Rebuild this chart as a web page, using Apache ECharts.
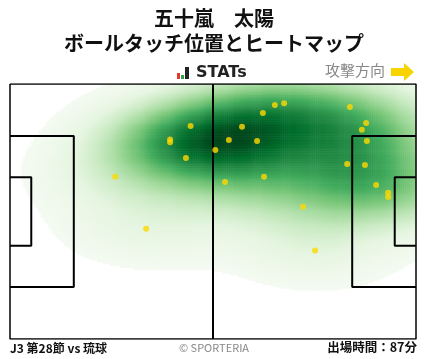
<!DOCTYPE html>
<html><head><meta charset="utf-8">
<script src="https://cdn.jsdelivr.net/npm/echarts@6/dist/echarts.min.js"></script>
<style>html,body{margin:0;padding:0;background:#fff}#c{width:428px;height:359px}</style>
</head><body><div id="c"></div>
<script>
// Ball touch positions (metres: x 0..105 attacking right, y 0..68 from top)
const touchX = [46.7,41.4,41.4,45.5,27.2,35.2,53.1,68.5,70.9,65.4,60.0,56.6,63.9,55.6,65.7,75.8,78.9,87.9,92.1,91.0,92.3,87.2,91.8,94.7,97.8,97.8];
const touchY = [11.2,14.8,15.5,19.7,24.7,38.6,17.6,5.6,5.1,7.7,11.4,14.9,15.2,26.1,24.7,32.7,44.4,6.1,10.4,12.2,15.2,21.3,21.6,26.9,29.0,30.1];
const titleName = '五十嵐　太陽';
const titleSub = 'ボールタッチ位置とヒートマップ';
const footerLeft = 'J3 第28節 vs 琉球';
const footerRight = '出場時間：87分';

const PL = 105, PW = 68, CELL = 0.5;
const NX = PL / CELL, NY = PW / CELL;

// Gaussian KDE derived from the touch points
const n = touchX.length;
const mx = touchX.reduce((a,b)=>a+b,0)/n, my = touchY.reduce((a,b)=>a+b,0)/n;
let sxx=0, syy=0, sxy=0;
for (let i=0;i<n;i++){ const dx=touchX[i]-mx, dy=touchY[i]-my; sxx+=dx*dx; syy+=dy*dy; sxy+=dx*dy; }
sxx/=(n-1); syy/=(n-1); sxy/=(n-1);
const f = 1.2*Math.pow(n, -1/6), f2 = f*f;
const cxx = sxx*f2, cyy = syy*f2, cxy = sxy*f2;
const det = cxx*cyy - cxy*cxy;
const ixx = cyy/det, iyy = cxx/det, ixy = -cxy/det;
const xCats = [], yCats = [];
for (let i=0;i<NX;i++) xCats.push(i);
for (let j=0;j<NY;j++) yCats.push(j);
const dens = [];
let dmax = 0;
for (let i=0;i<NX;i++){
  const x = (i+0.5)*CELL;
  for (let j=0;j<NY;j++){
    const y = (j+0.5)*CELL;
    let s = 0;
    for (let k=0;k<n;k++){
      const dx = x-touchX[k], dy = y-touchY[k];
      s += Math.exp(-0.5*(ixx*dx*dx + 2*ixy*dx*dy + iyy*dy*dy));
    }
    dens.push([i,j,s]);
    if (s>dmax) dmax=s;
  }
}
const thr = dmax*0.04;
const heatData = dens.filter(d=>d[2]>=thr);

function seg(pts, w){ return {type:'line', xAxisIndex:1, yAxisIndex:1, data:pts, symbol:'none', silent:true,
  lineStyle:{color:'#000', width:w||2}, z:5, animation:false}; }

const chart = echarts.init(document.getElementById('c'), null, {renderer:'canvas'});
const FONT = '"Noto Sans CJK JP", "Noto Sans", sans-serif';
chart.setOption({
  animation:false,
  backgroundColor:'#fff',
  title:[
    {text:titleName, left:'center', top:8, padding:0, textStyle:{fontFamily:FONT, fontSize:20, fontWeight:'bold', color:'#111'}},
    {text:titleSub, left:'center', top:33, padding:0, textStyle:{fontFamily:FONT, fontSize:20, fontWeight:'bold', color:'#111'}},
    {text:footerLeft, left:10, top:342, padding:0, textStyle:{fontFamily:FONT, fontSize:12, fontWeight:'bold', color:'#111'}},
    {text:'© SPORTERIA', left:'center', top:342, padding:0, textStyle:{fontFamily:FONT, fontSize:11, fontWeight:'normal', color:'#888'}},
    {text:footerRight, right:11, top:341, padding:0, textStyle:{fontFamily:FONT, fontSize:12.5, fontWeight:'bold', color:'#111'}},
    {text:'攻撃方向', left:325, top:63, padding:0, textStyle:{fontFamily:FONT, fontSize:15, fontWeight:'normal', color:'#888'}},
    {text:'STATs', left:196, top:65, padding:0, textStyle:{fontFamily:'DejaVu Sans', fontSize:16, fontWeight:'bold', color:'#222'}}
  ],
  graphic:[
    {type:'rect', shape:{x:177, y:73, width:3, height:6}, style:{fill:'#e23b2e'}},
    {type:'rect', shape:{x:181, y:75, width:3, height:4}, style:{fill:'#2aa14a'}},
    {type:'rect', shape:{x:185, y:67, width:4, height:12}, style:{fill:'#222'}},
    {type:'polygon', shape:{points:[[391,68],[404,68],[404,63],[414,72],[404,81],[404,76],[391,76]]}, style:{fill:'#f7d400'}}
  ],
  grid:[
    {left:10, top:84, width:406, height:255, containLabel:false},
    {left:10, top:84, width:406, height:255, containLabel:false}
  ],
  xAxis:[
    {type:'category', gridIndex:0, data:xCats, show:false},
    {type:'value', gridIndex:1, min:0, max:PL, show:false}
  ],
  yAxis:[
    {type:'category', gridIndex:0, data:yCats, inverse:true, show:false},
    {type:'value', gridIndex:1, min:0, max:PW, inverse:true, show:false}
  ],
  visualMap:{show:false, type:'continuous', seriesIndex:0, dimension:2, min:thr, max:dmax,
    inRange:{color:['#f4faf1','#e5f5e0','#c7e9c0','#a1d99b','#74c476','#41ab5d','#238b45','#006d2c','#00441b']}},
  series:[
    {type:'heatmap', xAxisIndex:0, yAxisIndex:0, data:heatData, silent:true, progressive:0, z:1},
    seg([[0,0],[PL,0],[PL,PW],[0,PW],[0,0]], 1.5),
    seg([[PL/2,0],[PL/2,PW]]),
    seg([[0,13.84],[16.5,13.84],[16.5,54.16],[0,54.16]]),
    seg([[0,24.84],[5.5,24.84],[5.5,43.16],[0,43.16]]),
    seg([[PL,13.84],[PL-16.5,13.84],[PL-16.5,54.16],[PL,54.16]]),
    seg([[PL,24.84],[PL-5.5,24.84],[PL-5.5,43.16],[PL,43.16]]),
    {type:'scatter', xAxisIndex:1, yAxisIndex:1, data:touchX.map((x,i)=>[x,touchY[i]]), symbolSize:6,
      itemStyle:{color:'#ffd800'}, silent:true, z:10}
  ]
});
</script></body></html>
